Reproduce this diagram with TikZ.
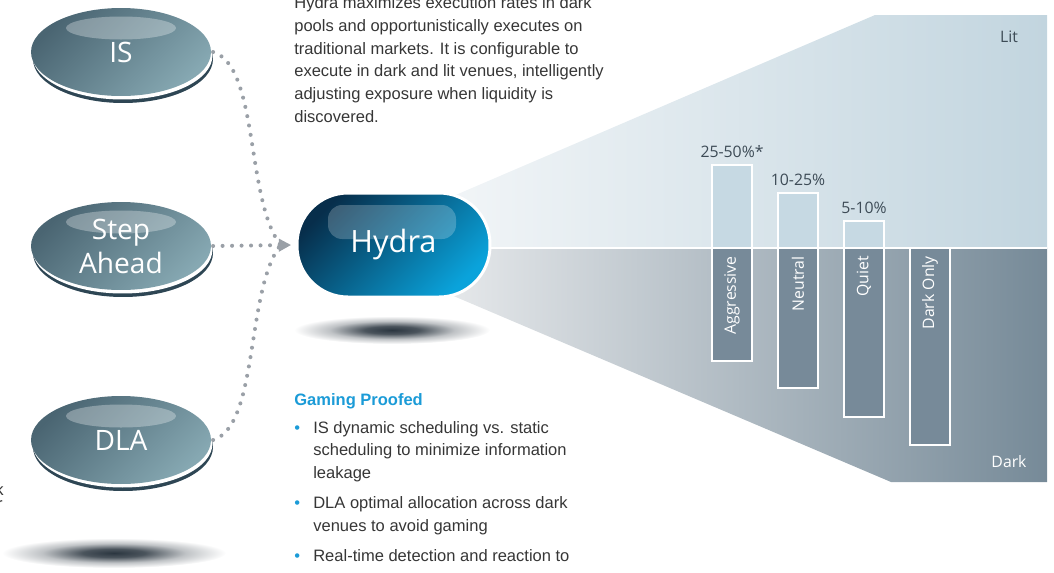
\documentclass[tikz,border=0pt]{standalone}
\usepackage{fontspec}
\setmainfont{Liberation Sans}
\newfontfamily\lbl{Open Sans}
\usetikzlibrary{shapes.geometric,arrows.meta,calc,positioning}

\definecolor{algoA}{HTML}{4A6572}
\definecolor{algoB}{HTML}{86A8B2}
\definecolor{algoRim}{HTML}{2E4654}
\definecolor{hydA}{HTML}{072E4B}
\definecolor{hydB}{HTML}{0AA3DB}
\definecolor{litL}{HTML}{F3F6F8}
\definecolor{litR}{HTML}{C2D5DF}
\definecolor{darkL}{HTML}{E9EBED}
\definecolor{darkM}{HTML}{B5BDC5}
\definecolor{darkR}{HTML}{768A98}
\definecolor{barLit}{HTML}{C6D9E3}
\definecolor{barDark}{HTML}{778A99}
\definecolor{txt}{HTML}{363636}
\definecolor{pctTxt}{HTML}{3D4B56}
\definecolor{gpblue}{HTML}{1B9BD7}
\definecolor{dotc}{HTML}{9AA0A7}
\definecolor{shadowc}{HTML}{2B3640}

%sombra difusa (25bp = borda do caminho)
\pgfdeclareradialshading{softshadow}{\pgfpoint{0bp}{0bp}}{color(0bp)=(shadowc); color(7bp)=(shadowc!85!white); color(16bp)=(shadowc!30!white); color(25bp)=(white); color(50bp)=(white)}

\begin{document}
\begin{tikzpicture}[x=0.02cm,y=-0.02cm,
  algo/.style={ellipse,minimum width=3.6cm,minimum height=1.76cm,inner sep=0pt,
    preaction={fill=algoRim,transform canvas={shift={(2,7)}}},
    preaction={fill=white,transform canvas={shift={(1.5,3.5)}}},
    top color=algoA,bottom color=algoB,shading angle=45,
    text=white,font=\lbl\fontsize{16}{19.3}\selectfont,align=center},
  hydranode/.style={rectangle,rounded corners=1.02cm,minimum width=3.86cm,minimum height=2.08cm,
    draw=white,line width=1.7pt,top color=hydA,bottom color=hydB,shading angle=45,
    text=white,font=\lbl\fontsize{17.5}{20}\selectfont},
  dotlink/.style={dotc,line width=2.3pt,line cap=round,dash pattern=on 0pt off 5.4pt},
  bartxt/.style={font=\lbl\fontsize{9}{10}\selectfont},
  body/.style={text=txt,font=\fontsize{9.4}{12.9}\selectfont,inner sep=0pt}]

  \useasboundingbox (0,0) rectangle (1054,572);

  %cunha lit / dark
  \coordinate (w0) at (430,248);
  \coordinate (w1) at (430,206);
  \coordinate (w2) at (875,15);
  \coordinate (w3) at (1047,15);
  \coordinate (w4) at (1047,248);
  \coordinate (w5) at (1047,482);
  \coordinate (w6) at (891,482);
  \coordinate (w7) at (430,286);
  \shade[left color=litL,right color=litR] (w1) -- (w2) -- (w3) -- (w4) -- (w0) -- cycle;
  \shade[left color=darkL,middle color=darkM,right color=darkR] (w0) -- (w4) -- (w5) -- (w6) -- (w7) -- cycle;

  %barras
  \foreach \cx/\yt/\yb/\nome [count=\i] in {732/165/361/Aggressive,798/193/388/Neutral,864/221/417/Quiet,930/248/445/Dark Only}{
    \fill[barLit] (\cx-20,\yt) rectangle (\cx+20,248);
    \fill[barDark] (\cx-20,248) rectangle (\cx+20,\yb);
    \draw[white,line width=0.9pt] (\cx-20,\yt) rectangle (\cx+20,\yb);
    \node[bartxt,rotate=90,anchor=east,text=white] (modo\i) at (\cx,250) {\nome};
  }
  \draw[white,line width=1.2pt] (w0) -- (w4);
  \foreach \cx/\yt/\pct [count=\i] in {732/165/25-50\%*,798/193/10-25\%,864/221/5-10\%}
    \node[bartxt,anchor=base,text=pctTxt] (taxa\i) at (\cx,\yt-8) {\pct};

  \node[bartxt,anchor=base,text=pctTxt] (lit) at (1009,42) {Lit};
  \node[bartxt,anchor=base,text=white] (dark) at (1009,467) {Dark};

  %sombras
  \shade[shading=softshadow] (392,330) ellipse [x radius=98,y radius=14];
  \shade[shading=softshadow] (114,553) ellipse [x radius=112,y radius=15];

  %hydra
  \node[hydranode] (hydra) at (393.5,245) {Hydra};
  \fill[white,opacity=.22,rounded corners=8pt] ($(hydra.center)+(-65.5,-40)$) rectangle ($(hydra.center)+(62.5,-6)$);

  %algoritmos
  \node[algo] (is) at (121,52) {IS};
  \node[algo] (step) at (121,246) {Step\\Ahead};
  \node[algo] (dla) at (121,440) {DLA};
  \foreach \n in {is,step,dla}
    \fill[white,opacity=.3] ($(\n.center)+(0,-24)$) ellipse [x radius=55,y radius=11.5];

  %ligacoes pontilhadas
  \coordinate (tip) at ([xshift=-2.5pt]hydra.west);
  \coordinate (join) at ([xshift=-6pt]tip);
  \draw[dotlink] ([xshift=1pt]is.east) .. controls +(46,14) and +(-35,-45) .. (join);
  \draw[dotlink] ([xshift=1pt]dla.east) .. controls +(46,-14) and +(-35,45) .. (join);
  \draw[dotlink,-{Triangle[length=7pt,width=7pt]}] ([xshift=1pt]step.east) -- (tip);

  %textos (base = ultima linha)
  \node[body,anchor=base west,align=left] (desc) at (294,122) {Hydra maximizes execution rates in dark\\pools and opportunistically executes on\\traditional markets. It is configurable to\\execute in dark and lit venues, intelligently\\adjusting exposure when liquidity is\\discovered.};
  \node[body,anchor=base west,text=gpblue,font=\bfseries\fontsize{9.4}{12.9}\selectfont] (gp) at (294,405) {Gaming Proofed};
  \node[body,anchor=base west] (gplist) at (294,433) {\begin{tabular}[t]{@{}l@{\hspace{7.5pt}}l@{}}
    \textcolor{gpblue}{\textbullet} & IS dynamic scheduling vs. static\\
     & scheduling to minimize information\\
     & leakage\\[4.3pt]
    \textcolor{gpblue}{\textbullet} & DLA optimal allocation across dark\\
     & venues to avoid gaming\\[4.3pt]
    \textcolor{gpblue}{\textbullet} & Real-time detection and reaction to
  \end{tabular}};
  \node[body,anchor=base east] (frag1) at (4,495) {k};
  \node[body,anchor=base east] (frag2) at (3,509) {r};
\end{tikzpicture}
\end{document}
